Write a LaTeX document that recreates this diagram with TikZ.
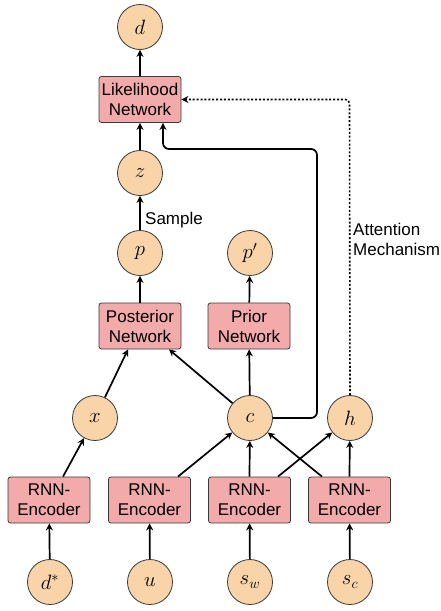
\documentclass[tikz,border=0pt]{standalone}
\usepackage{fontspec}
\setmainfont{Liberation Sans}
\usetikzlibrary{arrows.meta}
\definecolor{peach}{HTML}{F9D4A9}
\definecolor{pinkbox}{HTML}{F2AAAA}
\definecolor{edgegray}{HTML}{3A3A3A}
\begin{document}
\begin{tikzpicture}[x=1pt,y=-1pt,
  var/.style={circle,draw=edgegray,line width=0.8pt,fill=peach,minimum size=45pt,inner sep=0pt,font=\fontsize{22}{25}\selectfont},
  netbox/.style={rectangle,rounded corners=2.5pt,draw=edgegray,line width=0.8pt,fill=pinkbox,minimum width=82pt,minimum height=46pt,inner sep=1pt,align=center,font=\fontsize{17}{20}\selectfont},
  arr/.style={-{Stealth[length=7pt,width=7pt]},line width=1.7pt,black},
  dotarr/.style={-{Stealth[length=7pt,width=7pt]},line width=1.6pt,dash pattern=on 2pt off 1.9pt,black},
  lbl/.style={font=\fontsize{17}{20}\selectfont,align=left,inner sep=0pt}]
\useasboundingbox (0,0) rectangle (440,611);
% circles
\node[var] (d) at (140,27) {$d$};
\node[var] (z) at (140,173) {$z$};
\node[var] (p) at (140,253) {$p$};
\node[var] (pp) at (250,253) {$p'$};
\node[var] (x) at (95,418) {$x$};
\node[var] (c) at (250,418) {$c$};
\node[var] (h) at (350,418) {$h$};
\node[var] (ds) at (50,582) {$d^{*}$};
\node[var] (u) at (150,582) {$u$};
\node[var] (sw) at (250,582) {$s_w$};
\node[var] (sc) at (350,582) {$s_c$};
% boxes
\node[netbox] (lik) at (140,99.5) {Likelihood\\Network};
\node[netbox] (post) at (140,326) {Posterior\\Network};
\node[netbox] (prior) at (249,326) {Prior\\Network};
\node[netbox] (r1) at (49,500) {RNN-\\Encoder};
\node[netbox] (r2) at (149.5,500) {RNN-\\Encoder};
\node[netbox] (r3) at (249.5,500) {RNN-\\Encoder};
\node[netbox] (r4) at (349.5,500) {RNN-\\Encoder};
% bottom inputs
\draw[arr] (ds) -- (r1);
\draw[arr] (u) -- (r2);
\draw[arr] (sw) -- (r3);
\draw[arr] (sc) -- (r4);
% encoders to latent
\draw[arr] ([xshift=14pt]r1.north) -- (x);
\draw[arr] ([xshift=28.5pt]r2.north) -- (c);
\draw[arr] (r3.north) -- (c);
\draw[arr] ([xshift=28.5pt]r3.north) -- (h);
\draw[arr] ([xshift=-27.5pt]r4.north) -- (c);
\draw[arr] (r4.north) -- (h);
% to networks
\draw[arr] (x) -- ([xshift=-12pt]post.south);
\draw[arr] (c) -- ([xshift=29pt]post.south);
\draw[arr] (c) -- (prior);
\draw[arr] (prior) -- (pp);
\draw[arr] (post) -- (p);
\draw[arr] (p) -- (z);
\node[lbl,anchor=west] (samp) at (145,220) {Sample};
\draw[arr] (z) -- (lik);
\draw[arr] (lik) -- (d);
% c to likelihood
\coordinate (c1) at (317,418);
\coordinate (c2) at (317,149);
\coordinate (c3) at (163,149);
\draw[arr,rounded corners=6pt] (c.east) -- (c1) -- (c2) -- (c3) -- ([xshift=23pt]lik.south);
% attention
\coordinate (a1) at (349.5,99.5);
\draw[dotarr,rounded corners=4pt] (h.north) -- (a1) -- (lik.east);
\node[lbl,anchor=west] (att) at (353,239.5) {Attention\\Mechanism};
\end{tikzpicture}
\end{document}
